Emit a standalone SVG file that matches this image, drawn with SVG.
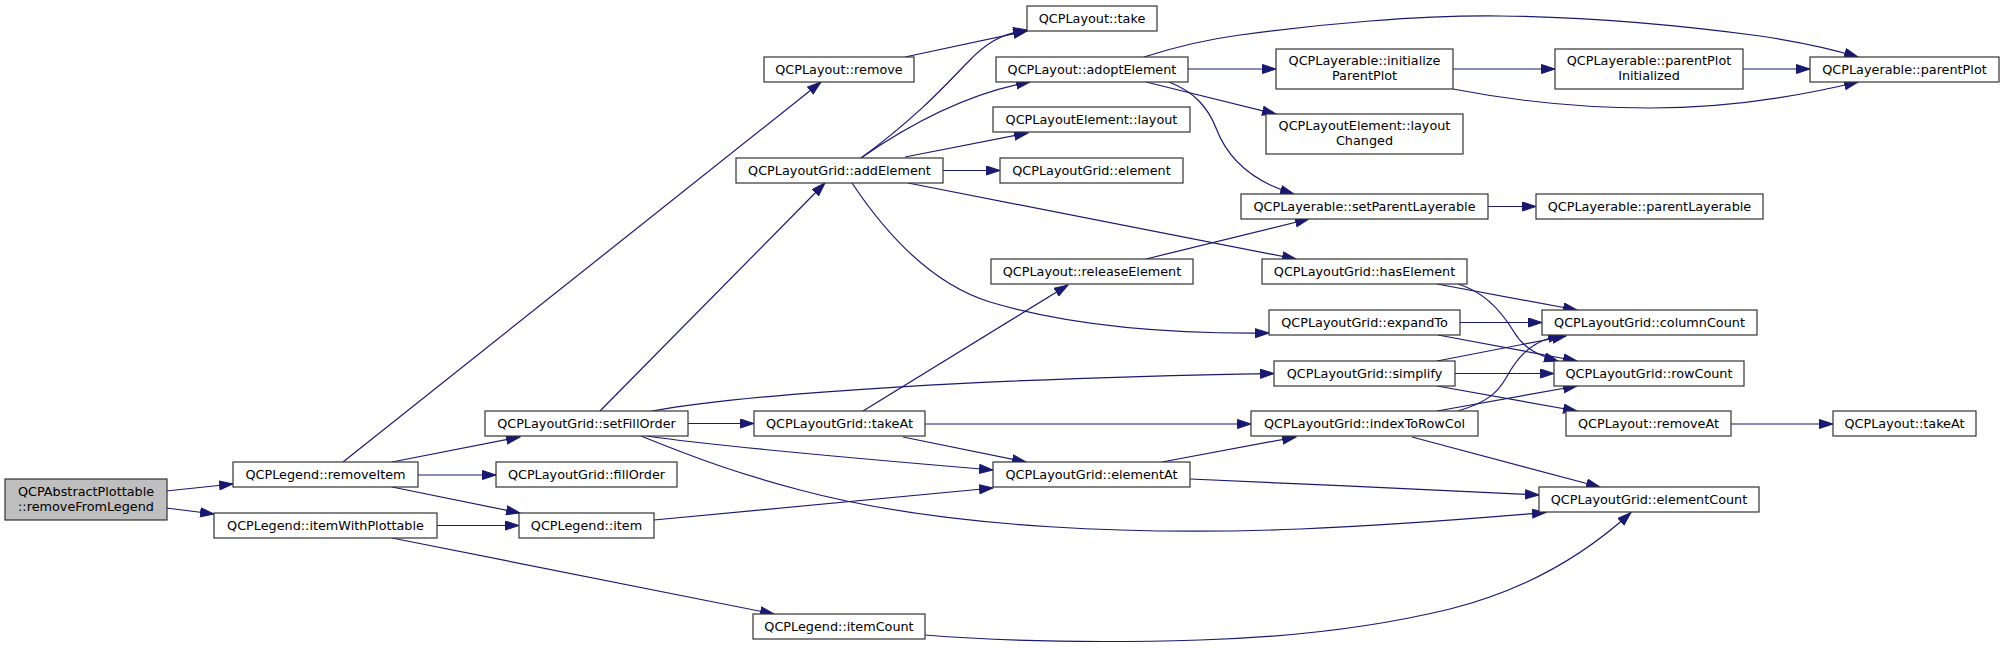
<svg xmlns="http://www.w3.org/2000/svg" width="2004" height="648" viewBox="0 0 2004 648">
<defs>
<marker id="ah" markerUnits="userSpaceOnUse" markerWidth="15" markerHeight="11" refX="14" refY="5" orient="auto">
<path d="M0.5,0.5 L14,5 L0.5,9.5 Z" fill="#191970" stroke="#191970" stroke-width="1"/>
</marker>
<style>
.n rect{fill:#ffffff;stroke:#333333;stroke-width:1.2}
.n.root rect{fill:#bfbfbf}
.n text{font-family:"DejaVu Sans",sans-serif;font-size:12.8px;fill:#000;text-anchor:middle}
#edges path{fill:none;stroke:#191970;stroke-width:1.2;marker-end:url(#ah)}
</style>
</defs>
<rect x="0" y="0" width="2004" height="648" fill="#ffffff"/>
<g id="edges">
<path d="M166,491 L233,484"/>
<path d="M166,508 L214,514"/>
<path d="M343,462 L821,82"/>
<path d="M392,462 L520,437"/>
<path d="M418,475 L496,475"/>
<path d="M392,487 L520,513"/>
<path d="M437,525.5 L519,525.5"/>
<path d="M392,538 L774,614"/>
<path d="M600,411 L825,183"/>
<path d="M652,411 C760,392 1000,378 1274,373.5"/>
<path d="M688,423.5 L754,423.5"/>
<path d="M647,436 C700,444 850,458 993,470"/>
<path d="M641,436 C700,460 740,474 800,490 C950,530 1150,535 1300,529 C1400,525 1480,518 1546,512.5"/>
<path d="M654,520 L993,488"/>
<path d="M905,57 L1027,31"/>
<path d="M861,158 C920,115 950,80 968,62 C985,44 1000,34 1027,30"/>
<path d="M861,158 C920,117 975,92 1030,82"/>
<path d="M905,157 L1028,133"/>
<path d="M943,170.5 L1000,170.5"/>
<path d="M908,183 L1296,259"/>
<path d="M852,183 C890,240 935,285 990,302 C1070,326 1170,334 1269,333"/>
<path d="M863,411 L1068,285"/>
<path d="M925,424 L1251,424"/>
<path d="M903,437 L1026,462"/>
<path d="M1144,57 C1175,47 1210,39 1240,35 C1320,24 1420,15 1500,16 C1600,17 1700,28 1760,36 C1800,42 1835,50 1858,57"/>
<path d="M1188,69 L1276,69"/>
<path d="M1146,82 L1276,114"/>
<path d="M1169,82 C1195,92 1208,108 1216,128 C1230,165 1260,184 1294,194"/>
<path d="M1453,69 L1555,69"/>
<path d="M1453,89 C1520,102 1585,108 1650,108 C1730,108 1800,96 1858,82"/>
<path d="M1743,69 L1810,69"/>
<path d="M1146,259 L1309,219"/>
<path d="M1488,206.5 L1536,206.5"/>
<path d="M1437,284 L1577,310"/>
<path d="M1458,284 C1485,292 1502,312 1514,332 C1524,349 1540,356 1558,361"/>
<path d="M1460,322.5 L1542,322.5"/>
<path d="M1438,335 L1577,361"/>
<path d="M1437,361 L1566,336"/>
<path d="M1455,373.5 L1554,373.5"/>
<path d="M1437,386 L1577,411"/>
<path d="M1458,411 C1488,402 1498,392 1506,378 C1520,352 1535,340 1562,335"/>
<path d="M1437,411 L1577,386"/>
<path d="M1412,437 L1600,487"/>
<path d="M1731,424 L1833,424"/>
<path d="M1162,462 L1296,437"/>
<path d="M1190,479 C1300,484 1440,490 1539,495"/>
<path d="M925,635 C1000,641 1100,643 1200,640 C1300,637 1380,626 1450,609 C1530,589 1590,550 1631,512.5"/>
</g>
<g id="n0" class="n root"><rect x="5" y="479" width="162" height="41"/><text x="86" y="495.5">QCPAbstractPlottable</text><text x="86" y="510.5">::removeFromLegend</text></g>
<g id="n1" class="n"><rect x="233" y="462" width="185" height="25"/><text x="325.5" y="479">QCPLegend::removeItem</text></g>
<g id="n2" class="n"><rect x="214" y="513" width="223" height="25"/><text x="325.5" y="530">QCPLegend::itemWithPlottable</text></g>
<g id="n3" class="n"><rect x="485" y="411" width="203" height="25"/><text x="586.5" y="428">QCPLayoutGrid::setFillOrder</text></g>
<g id="n4" class="n"><rect x="496" y="462" width="181" height="25"/><text x="586.5" y="479">QCPLayoutGrid::fillOrder</text></g>
<g id="n5" class="n"><rect x="519" y="513" width="135" height="25"/><text x="586.5" y="530">QCPLegend::item</text></g>
<g id="n6" class="n"><rect x="764" y="57" width="150" height="25"/><text x="839" y="74">QCPLayout::remove</text></g>
<g id="n7" class="n"><rect x="736" y="158" width="207" height="25"/><text x="839.5" y="175">QCPLayoutGrid::addElement</text></g>
<g id="n8" class="n"><rect x="754" y="411" width="171" height="25"/><text x="839.5" y="428">QCPLayoutGrid::takeAt</text></g>
<g id="n9" class="n"><rect x="753" y="614" width="172" height="25"/><text x="839" y="631">QCPLegend::itemCount</text></g>
<g id="n10" class="n"><rect x="1027" y="6" width="130" height="25"/><text x="1092" y="23">QCPLayout::take</text></g>
<g id="n11" class="n"><rect x="996" y="57" width="192" height="25"/><text x="1092" y="74">QCPLayout::adoptElement</text></g>
<g id="n12" class="n"><rect x="993" y="107" width="197" height="25"/><text x="1091.5" y="124">QCPLayoutElement::layout</text></g>
<g id="n13" class="n"><rect x="1000" y="158" width="183" height="25"/><text x="1091.5" y="175">QCPLayoutGrid::element</text></g>
<g id="n14" class="n"><rect x="991" y="259" width="202" height="25"/><text x="1092" y="276">QCPLayout::releaseElement</text></g>
<g id="n15" class="n"><rect x="993" y="462" width="197" height="25"/><text x="1091.5" y="479">QCPLayoutGrid::elementAt</text></g>
<g id="n16" class="n"><rect x="1276" y="49" width="177" height="40"/><text x="1364.5" y="65">QCPLayerable::initialize</text><text x="1364.5" y="80">ParentPlot</text></g>
<g id="n17" class="n"><rect x="1266" y="114" width="197" height="40"/><text x="1364.5" y="130">QCPLayoutElement::layout</text><text x="1364.5" y="145">Changed</text></g>
<g id="n18" class="n"><rect x="1241" y="194" width="247" height="25"/><text x="1364.5" y="211">QCPLayerable::setParentLayerable</text></g>
<g id="n19" class="n"><rect x="1262" y="259" width="205" height="25"/><text x="1364.5" y="276">QCPLayoutGrid::hasElement</text></g>
<g id="n20" class="n"><rect x="1269" y="310" width="191" height="25"/><text x="1364.5" y="327">QCPLayoutGrid::expandTo</text></g>
<g id="n21" class="n"><rect x="1274" y="361" width="181" height="25"/><text x="1364.5" y="378">QCPLayoutGrid::simplify</text></g>
<g id="n22" class="n"><rect x="1251" y="411" width="227" height="25"/><text x="1364.5" y="428">QCPLayoutGrid::indexToRowCol</text></g>
<g id="n23" class="n"><rect x="1555" y="49" width="188" height="40"/><text x="1649" y="65">QCPLayerable::parentPlot</text><text x="1649" y="80">Initialized</text></g>
<g id="n24" class="n"><rect x="1536" y="194" width="227" height="25"/><text x="1649.5" y="211">QCPLayerable::parentLayerable</text></g>
<g id="n25" class="n"><rect x="1542" y="310" width="215" height="25"/><text x="1649.5" y="327">QCPLayoutGrid::columnCount</text></g>
<g id="n26" class="n"><rect x="1554" y="361" width="190" height="25"/><text x="1649" y="378">QCPLayoutGrid::rowCount</text></g>
<g id="n27" class="n"><rect x="1566" y="411" width="165" height="25"/><text x="1648.5" y="428">QCPLayout::removeAt</text></g>
<g id="n28" class="n"><rect x="1539" y="487" width="220" height="25"/><text x="1649" y="504">QCPLayoutGrid::elementCount</text></g>
<g id="n29" class="n"><rect x="1810" y="57" width="189" height="25"/><text x="1904.5" y="74">QCPLayerable::parentPlot</text></g>
<g id="n30" class="n"><rect x="1833" y="411" width="143" height="25"/><text x="1904.5" y="428">QCPLayout::takeAt</text></g>
</svg>
